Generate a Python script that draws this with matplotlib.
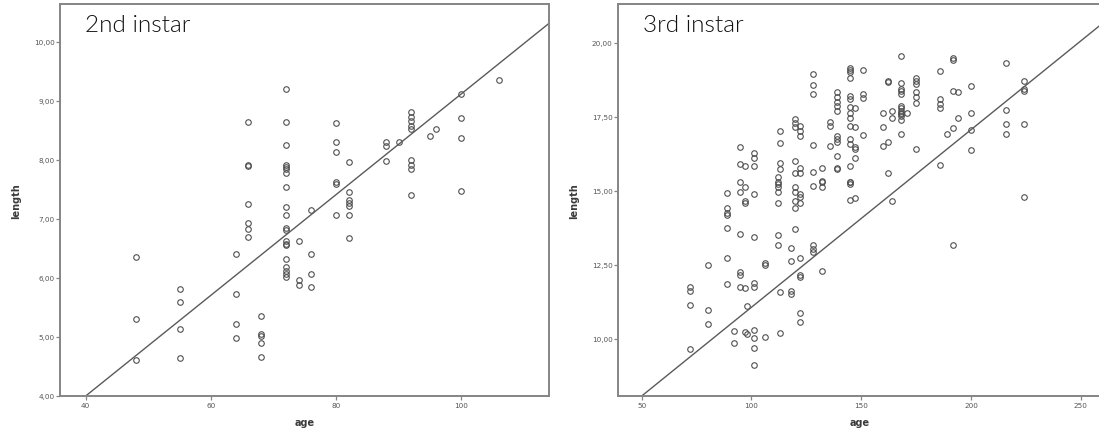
import matplotlib
matplotlib.use("Agg")
import matplotlib.pyplot as plt
from matplotlib.ticker import FuncFormatter, FixedLocator
import numpy as np

# ---------------- data: 2nd instar (age -> lengths) ----------------
age2_groups = [48, 55, 64, 66, 68, 72, 74, 76, 80, 82, 88, 90, 92, 95, 96, 100, 106]
len2_groups = [
    [6.35, 5.31, 4.61],
    [5.81, 5.59, 5.14, 4.65],
    [6.41, 5.72, 5.22, 4.98],
    [8.64, 7.92, 7.89, 7.26, 6.93, 6.83, 6.70],
    [5.36, 5.05, 5.01, 4.89, 4.66],
    [9.20, 8.64, 8.25, 7.92, 7.88, 7.85, 7.77, 7.54, 7.20, 7.06, 6.84, 6.82,
     6.62, 6.58, 6.55, 6.32, 6.18, 6.12, 6.07, 6.01],
    [6.63, 5.97, 5.88],
    [7.15, 6.41, 6.06, 5.85],
    [8.62, 8.30, 8.13, 7.63, 7.59, 7.06],
    [7.96, 7.45, 7.32, 7.27, 7.21, 7.07, 6.67],
    [8.30, 8.23, 7.98],
    [8.30],
    [8.81, 8.72, 8.65, 8.58, 8.53, 8.00, 7.91, 7.85, 7.41],
    [8.40],
    [8.53],
    [9.11, 8.71, 8.37, 7.47],
    [9.35],
]
# regression line (intercept, slope)
fit2 = (0.588, 0.0853)

# ---------------- data: 3rd instar (age -> lengths) ----------------
age3_groups = [72, 80, 89, 92, 95, 97, 98, 101, 106, 112, 113, 118, 120, 122,
               128, 132, 136, 139, 145, 147, 151, 160, 162, 164, 168, 171, 175,
               186, 189, 192, 194, 200, 216, 224]
len3_groups = [
    [11.73, 11.61, 11.13, 9.64],
    [12.48, 10.96, 10.51],
    [14.92, 14.40, 14.26, 14.17, 13.73, 12.72, 11.84],
    [10.26, 9.85],
    [16.49, 15.90, 15.28, 14.94, 13.52, 12.14, 12.24, 11.73],
    [15.84, 15.13, 14.66, 14.60, 11.70, 10.23],
    [11.09, 10.15],
    [16.26, 16.10, 15.84, 14.88, 13.42, 11.88, 11.76, 10.30, 10.01, 9.68, 9.10],
    [12.57, 12.48, 10.05],
    [15.45, 15.28, 15.22, 15.11, 14.94, 14.58, 13.51, 13.16],
    [17.02, 16.60, 15.95, 15.73, 11.58, 10.18],
    [13.05, 12.61, 11.61, 11.50],
    [17.42, 17.28, 17.16, 16.01, 15.59, 15.11, 14.94, 14.66, 14.41, 13.70],
    [17.19, 17.02, 16.85, 15.78, 15.61, 14.88, 14.80, 14.58, 12.71, 12.14,
     12.07, 10.86, 10.57],
    [18.95, 18.56, 18.27, 16.55, 15.64, 15.16, 13.17, 13.02, 12.93],
    [15.76, 15.33, 15.28, 15.11, 12.27],
    [17.32, 17.19, 16.51],
    [18.32, 18.15, 18.00, 17.86, 17.70, 16.85, 16.74, 16.63, 16.18, 15.78, 15.73],
    [19.13, 19.07, 19.01, 18.81, 18.20, 18.11, 17.84, 17.64, 17.47, 17.17,
     16.74, 16.57, 15.84, 15.30, 15.28, 15.22, 14.68],
    [17.81, 17.14, 16.46, 16.40, 16.09, 14.74],
    [19.08, 18.26, 18.12, 16.88],
    [17.64, 17.14, 16.51],
    [18.70, 18.66, 16.63, 15.59],
    [17.70, 17.46, 14.66],
    [19.55, 18.63, 18.45, 18.36, 18.26, 17.86, 17.81, 17.70, 17.64, 17.58,
     17.53, 17.39, 16.91],
    [17.64],
    [18.81, 18.71, 18.59, 18.32, 18.15, 17.98, 16.40],
    [19.04, 18.09, 17.92, 17.78, 15.87],
    [16.91],
    [19.47, 19.42, 18.37, 17.12, 13.17],
    [18.35, 17.46],
    [18.54, 17.64, 17.05, 16.38],
    [19.31, 17.72, 17.27, 16.91],
    [18.70, 18.45, 18.37, 17.27, 14.80],
]
fit3 = (5.06, 0.0600)

titles = ["2nd instar", "3rd instar"]
yticks2 = [4, 5, 6, 7, 8, 9, 10]
xticks2 = [40, 60, 80, 100]
yticks3 = [10, 12.5, 15, 17.5, 20]
xticks3 = [50, 100, 150, 200, 250]


def flatten(ages, groups):
    xs, ys = [], []
    for a, g in zip(ages, groups):
        for v in g:
            xs.append(a)
            ys.append(v)
    return np.array(xs, float), np.array(ys, float)


W, H = 1099, 439
fig = plt.figure(figsize=(W / 100, H / 100), dpi=100)
fig.patch.set_facecolor("white")

frame_col = "#858585"
txt_col = "#3a3a3a"
comma = FuncFormatter(lambda v, p: f"{v:.2f}".replace(".", ","))

panels = [
    dict(rect=[60 / W, 42 / H, 489 / W, 392 / H], xlim=(35.9, 114.0), ylim=(4.0, 10.64),
         ages=age2_groups, groups=len2_groups, fit=fit2, xt=xticks2, yt=yticks2,
         title=titles[0]),
    dict(rect=[618 / W, 42 / H, 484 / W, 392 / H], xlim=(39.2, 259.7), ylim=(8.06, 21.31),
         ages=age3_groups, groups=len3_groups, fit=fit3, xt=xticks3, yt=yticks3,
         title=titles[1]),
]

for p in panels:
    ax = fig.add_axes(p["rect"])
    x, y = flatten(p["ages"], p["groups"])
    ax.plot(x, y, linestyle="none", marker="o", markersize=4.0,
            markerfacecolor="none", markeredgecolor="#505050", markeredgewidth=0.8)
    b0, b1 = p["fit"]
    xl = np.array(p["xlim"])
    ax.plot(xl, b0 + b1 * xl, color="#5a5a5a", linewidth=1.0)
    ax.set_xlim(*p["xlim"])
    ax.set_ylim(*p["ylim"])
    ax.xaxis.set_major_locator(FixedLocator(p["xt"]))
    ax.yaxis.set_major_locator(FixedLocator(p["yt"]))
    ax.yaxis.set_major_formatter(comma)
    ax.tick_params(direction="out", length=3, width=0.9, color=frame_col,
                   labelsize=5.2, labelcolor="#555555", pad=1)
    for s in ax.spines.values():
        s.set_color(frame_col)
        s.set_linewidth(1.4)
    ax.set_xlabel("age", fontsize=7, fontweight="bold", color=txt_col, labelpad=7)
    ax.set_ylabel("length", fontsize=7, fontweight="bold", color=txt_col, labelpad=9)
    ax.text(0.052, 0.975, p["title"], transform=ax.transAxes, ha="left", va="top",
            fontsize=17.5, family="Lato", fontweight=300, color="#111111")

fig.savefig("out.png", dpi=100, facecolor="white")
